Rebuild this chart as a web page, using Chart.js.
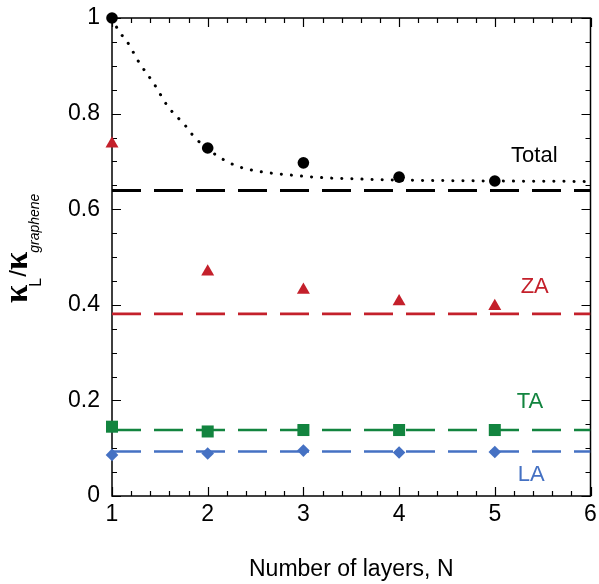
<!DOCTYPE html>
<html>
<head>
<meta charset="utf-8">
<script src="https://cdn.jsdelivr.net/npm/chart.js@4.4.1/dist/chart.umd.min.js"></script>
<style>
  html, body { margin: 0; padding: 0; background: #fff; }
  #wrap { width: 599px; height: 584px; }
</style>
</head>
<body>
<div id="wrap"><canvas id="c" width="599" height="584"></canvas></div>
<script>
// layers N
var layers = [1, 2, 3, 4, 5];
// kappa_L / kappa_graphene
var totalVals = [1.0, 0.728, 0.697, 0.667, 0.659];
var zaVals = [0.737, 0.469, 0.431, 0.407, 0.397];
var taVals = [0.145, 0.135, 0.138, 0.138, 0.138];
var laVals = [0.086, 0.089, 0.095, 0.091, 0.092];

// dotted fit curve through Total
var fitX = [1, 1.07, 1.16, 1.28, 1.44, 1.58, 1.77, 1.86, 2.09, 2.31, 2.54, 2.84, 3.2, 3.6, 4, 5, 6];
var fitY = [1.0, 0.973, 0.950, 0.908, 0.862, 0.816, 0.774, 0.751, 0.713, 0.690, 0.679, 0.672, 0.666, 0.663, 0.661, 0.659, 0.658];

// bulk-like reference levels (dashed lines)
var levelX = [1, 6];
var totalLevel = 0.639;
var zaLevel = 0.381;
var taLevel = 0.138;
var laLevel = 0.093;

// axis ticks
var xTicks = [1, 2, 3, 4, 5, 6];
var xMinorStep = 0.2;
var yTicks = [0, 0.2, 0.4, 0.6, 0.8, 1];
var yMinorStep = 0.05;

var RED = "#c4202b", GREEN = "#12843f", BLUE = "#4571c3";

// series labels: text, x, y (baseline) in data units
var seriesLabels = [
    { text: "Total", x: 5.17, y: 0.698, color: "#000" },
    { text: "ZA", x: 5.27, y: 0.425, color: RED },
    { text: "TA", x: 5.23, y: 0.184, color: GREEN },
    { text: "LA", x: 5.24, y: 0.031, color: BLUE }
];

function pts(xs, ys) {
    return xs.map(function (x, i) { return { x: x, y: ys[i] }; });
}
function level(v) {
    return levelX.map(function (x) { return { x: x, y: v }; });
}

var framePlugin = {
    id: "frame",
    beforeDatasetsDraw: function (chart) {
        var ctx = chart.ctx, a = chart.chartArea;
        var xs = chart.scales.x, ys = chart.scales.y;
        ctx.save();
        ctx.strokeStyle = "#000";
        ctx.lineWidth = 1.5;
        ctx.strokeRect(a.left, a.top, a.right - a.left, a.bottom - a.top);
        ctx.lineWidth = 1.2;
        ctx.beginPath();
        var i, v, p, len;
        for (i = 0; xTicks[0] + i * xMinorStep <= xTicks[xTicks.length - 1] + 1e-9; i++) {
            v = xTicks[0] + i * xMinorStep;
            p = Math.round(xs.getPixelForValue(v)) + 0.5;
            len = (i % 5 === 0) ? 9 : 5;
            ctx.moveTo(p, a.bottom); ctx.lineTo(p, a.bottom - len);
            ctx.moveTo(p, a.top); ctx.lineTo(p, a.top + len);
        }
        for (i = 0; yTicks[0] + i * yMinorStep <= yTicks[yTicks.length - 1] + 1e-9; i++) {
            v = yTicks[0] + i * yMinorStep;
            p = Math.round(ys.getPixelForValue(v)) + 0.5;
            len = (i % 4 === 0) ? 9 : 5;
            ctx.moveTo(a.left, p); ctx.lineTo(a.left + len, p);
            ctx.moveTo(a.right, p); ctx.lineTo(a.right - len, p);
        }
        ctx.stroke();
        ctx.restore();
    },
    afterDraw: function (chart) {
        var ctx = chart.ctx, a = chart.chartArea;
        var xs = chart.scales.x, ys = chart.scales.y;
        ctx.save();
        // series labels
        ctx.font = "22px 'Liberation Sans', Arial, sans-serif";
        ctx.textBaseline = "alphabetic";
        ctx.textAlign = "left";
        seriesLabels.forEach(function (l) {
            ctx.fillStyle = l.color;
            ctx.fillText(l.text, xs.getPixelForValue(l.x), ys.getPixelForValue(l.y));
        });
        // x title
        ctx.fillStyle = "#000";
        ctx.textAlign = "center";
        ctx.font = "23px 'Liberation Sans', Arial, sans-serif";
        ctx.fillText("Number of layers, N", (a.left + a.right) / 2, 576);
        // y title: kappa_L / kappa_graphene
        ctx.translate(27, 303);
        ctx.rotate(-Math.PI / 2);
        ctx.textAlign = "left";
        var u = 0;
        function put(t, font, v) {
            ctx.font = font;
            ctx.fillText(t, u, v);
            u += ctx.measureText(t).width;
        }
        var kFont = "bold 33px 'Liberation Serif', 'DejaVu Serif', serif";
        put("\u03ba", kFont, 0);
        u -= 2;
        put("L", "16px 'Liberation Sans', Arial, sans-serif", 14);
        u += 1;
        put("/", "24px 'Liberation Sans', Arial, sans-serif", -1);
        put("\u03ba", kFont, 0);
        u -= 1;
        put("graphene", "italic 14px 'Liberation Sans', Arial, sans-serif", 12);
        ctx.restore();
    }
};

function dashed(v, color, w) {
    return {
        type: "line", data: level(v), borderColor: color, borderWidth: w,
        borderDash: [29, 13], pointRadius: 0, fill: false, order: 5
    };
}
function marks(ys, color, style, r) {
    return {
        type: "scatter", data: pts(layers, ys), backgroundColor: color,
        borderColor: color, borderWidth: 0, pointStyle: style, pointRadius: r,
        clip: false, order: 1
    };
}

new Chart(document.getElementById("c"), {
    data: {
        datasets: [
            dashed(totalLevel, "#000", 3),
            dashed(zaLevel, RED, 2.6),
            dashed(taLevel, GREEN, 2.6),
            dashed(laLevel, BLUE, 2.6),
            {
                type: "line", data: pts(fitX, fitY), borderColor: "#000",
                borderWidth: 3, borderDash: [0.1, 10], borderCapStyle: "round",
                cubicInterpolationMode: "monotone", pointRadius: 0, fill: false, order: 4
            },
            marks(totalVals, "#000", "circle", 5.8),
            marks(zaVals, RED, "triangle", 7.5),
            marks(taVals, GREEN, "rect", 8.5),
            marks(laVals, BLUE, "rectRot", 6.3)
        ]
    },
    options: {
        responsive: false,
        animation: false,
        events: [],
        layout: { padding: { left: 0, right: 6, top: 18, bottom: 0 } },
        plugins: { legend: { display: false }, tooltip: { enabled: false } },
        scales: {
            x: {
                type: "linear", min: 1, max: 6,
                afterBuildTicks: function (s) { s.ticks = xTicks.map(function (v) { return { value: v }; }); },
                afterFit: function (s) { s.height = 88; s.paddingLeft = 0; s.paddingRight = 0; },
                grid: { display: false, drawTicks: false },
                border: { display: false },
                ticks: {
                    padding: 5, color: "#000",
                    font: { family: "'Liberation Sans', Arial, sans-serif", size: 23 }
                }
            },
            y: {
                type: "linear", min: 0, max: 1,
                afterBuildTicks: function (s) { s.ticks = yTicks.map(function (v) { return { value: v }; }); },
                afterFit: function (s) { s.width = 112; s.paddingTop = 0; s.paddingBottom = 0; },
                grid: { display: false, drawTicks: false },
                border: { display: false },
                ticks: {
                    padding: 12, color: "#000",
                    font: { family: "'Liberation Sans', Arial, sans-serif", size: 23 },
                    callback: function (v) { return String(Math.round(v * 10) / 10); }
                }
            }
        }
    },
    plugins: [framePlugin]
});
</script>
</body>
</html>
